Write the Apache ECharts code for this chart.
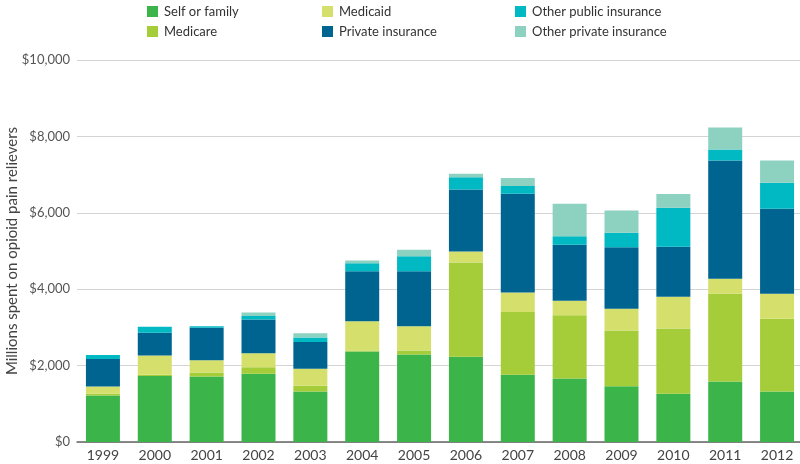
<!DOCTYPE html>
<html lang="en">
<head>
    <meta charset="UTF-8">
    <script src="https://cdn.jsdelivr.net/npm/echarts@6/dist/echarts.min.js"></script>
    <title>Opioid spending by payer</title>
</head>
<body>
    <style>
        html, body { margin: 0; background: #fff; }
        #main { width: 800px; height: 464px; }
    </style>
    <div id="main"></div>
    <script>
        var years = ['1999', '2000', '2001', '2002', '2003', '2004', '2005',
                     '2006', '2007', '2008', '2009', '2010', '2011', '2012'];
        // millions of dollars
        var selfOrFamily = [1215, 1725, 1715, 1785, 1320, 2370, 2290, 2230, 1760, 1660, 1460, 1260, 1585, 1320];
        var medicare =     [50,   35,   105,  175,  150,  25,   105,  2470, 1640, 1655, 1460, 1710, 2295, 1905];
        var medicaid =     [185,  505,  320,  365,  445,  765,  635,  290,  515,  385,  570,  830,  395,  655];
        var privateIns =   [725,  595,  850,  880,  705,  1310, 1440, 1620, 2585, 1465, 1610, 1310, 3095, 2225];
        var otherPublic =  [105,  155,  40,   95,   115,  210,  390,  320,  200,  220,  375,  1020, 290,  680];
        var otherPrivate = [0,    0,    0,    90,   115,  70,   175,  90,   210,  850,  585,  365,  570,  585];

        var seriesDefs = [
            { name: 'Self or family', data: selfOrFamily, color: '#3bb44a' },
            { name: 'Medicare', data: medicare, color: '#a5cd39' },
            { name: 'Medicaid', data: medicaid, color: '#d5e06c' },
            { name: 'Private insurance', data: privateIns, color: '#006491' },
            { name: 'Other public insurance', data: otherPublic, color: '#00b9c3' },
            { name: 'Other private insurance', data: otherPrivate, color: '#8dd1c1' }
        ];

        var legendBase = {
            orient: 'vertical',
            top: 0,
            itemWidth: 11,
            itemHeight: 11,
            itemGap: 7,
            icon: 'rect',
            selectedMode: false,
            textStyle: { fontFamily: 'Lato', fontSize: 13, color: '#333', padding: [0, 0, 0, 1] }
        };

        var chart = echarts.init(document.getElementById('main'));
        chart.setOption({
            animation: false,
            textStyle: { fontFamily: 'Lato' },
            legend: [
                Object.assign({}, legendBase, { left: 142, data: ['Self or family', 'Medicare'] }),
                Object.assign({}, legendBase, { left: 317, data: ['Medicaid', 'Private insurance'] }),
                Object.assign({}, legendBase, { left: 510, data: ['Other public insurance', 'Other private insurance'] })
            ],
            grid: {
                left: 77,
                top: 60,
                width: 726,
                height: 382,
                containLabel: false,
                outerBoundsMode: 'none'
            },
            xAxis: {
                type: 'category',
                data: years,
                axisTick: { show: false },
                axisLine: { lineStyle: { color: '#666', width: 1.5 } },
                axisLabel: { color: '#444', fontSize: 14, margin: 6 }
            },
            yAxis: {
                type: 'value',
                min: 0,
                max: 10000,
                interval: 2000,
                name: 'Millions spent on opioid pain relievers',
                nameLocation: 'middle',
                nameGap: 57,
                nameMoveOverlap: false,
                nameTextStyle: { color: '#444', fontSize: 15, fontFamily: 'Lato' },
                axisLine: { show: false },
                axisTick: { show: false },
                splitLine: { lineStyle: { color: '#d4d4d4' } },
                axisLabel: {
                    color: '#555',
                    fontSize: 13,
                    margin: 7,
                    formatter: function (v) { return '$' + v.toLocaleString('en-US'); }
                }
            },
            series: seriesDefs.map(function (s) {
                return {
                    name: s.name,
                    type: 'bar',
                    stack: 'total',
                    barWidth: 34,
                    data: s.data,
                    itemStyle: { color: s.color }
                };
            })
        });
    </script>
</body>
</html>
